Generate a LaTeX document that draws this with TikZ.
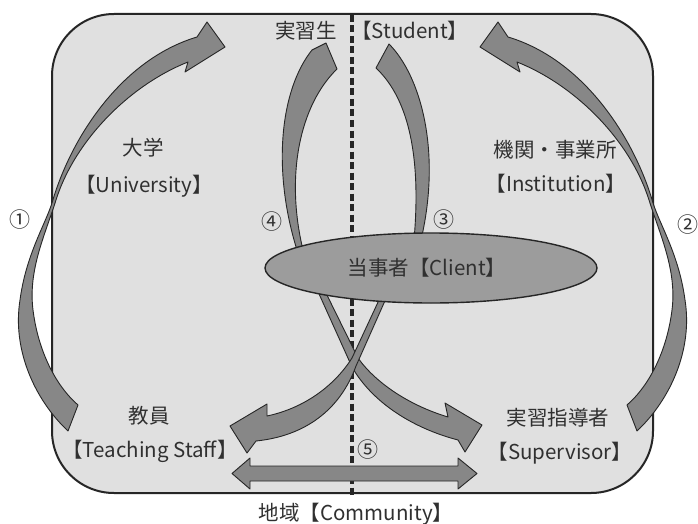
\documentclass[tikz,border=0pt]{standalone}
\usepackage{fontspec}
\setmainfont{Noto Sans CJK JP}
\usetikzlibrary{shapes.geometric}
\definecolor{boxfill}{HTML}{E0E0E0}
\definecolor{arrowfill}{HTML}{878787}
\definecolor{ellfill}{HTML}{9C9C9C}
\definecolor{ink}{HTML}{262626}
\definecolor{txt}{HTML}{303030}
\begin{document}
\begin{tikzpicture}[x=1pt,y=-1pt,
  ribbon/.style={fill=arrowfill,draw=ink,line width=0.9pt,line join=round},
  lbl/.style={text=txt,font=\fontsize{20.5}{24}\selectfont,inner sep=0pt},
  num/.style={text=txt,font=\fontsize{21}{24}\selectfont,inner sep=0pt},
  divider/.style={draw=ink,line width=3.4pt,dash pattern=on 7pt off 3.5pt},
  frame/.style={draw=ink,fill=boxfill,line width=2pt,rounded corners=62pt}]
\fill[white] (0,0) rectangle (698,524);
\useasboundingbox (0,0) rectangle (698,524);

% main frame
\path[frame] (52,14) rectangle (653,493);

% dashed divider
\coordinate (dtop) at (352,15);
\coordinate (dbot) at (352,497);
\draw[divider] (dtop) -- (dbot);

% arrow 1 (left outer)
\path[ribbon] (68,431) .. controls (35,400) and (12,350) .. (20,300)
  .. controls (26,255) and (45,225) .. (52,203)
  .. controls (70,140) and (120,60) .. (197,37)
  -- (207,22) -- (225,47) -- (185,72) -- (188,62)
  .. controls (130,85) and (75,140) .. (56,200)
  .. controls (45,235) and (28,270) .. (33,310)
  .. controls (38,350) and (55,385) .. (78,405) -- cycle;

% arrow 2 (right outer), mirror of arrow 1
\begin{scope}[xshift=705pt,xscale=-1]
\path[ribbon] (68,431) .. controls (35,400) and (12,350) .. (20,300)
  .. controls (26,255) and (45,225) .. (52,203)
  .. controls (70,140) and (120,60) .. (197,37)
  -- (207,22) -- (225,47) -- (185,72) -- (188,62)
  .. controls (130,85) and (75,140) .. (56,200)
  .. controls (45,235) and (28,270) .. (33,310)
  .. controls (38,350) and (55,385) .. (78,405) -- cycle;
\end{scope}

% upper left strand
\path[ribbon] (337,69) .. controls (300,105) and (285,175) .. (303,250)
  -- (297,250) .. controls (272,170) and (280,90) .. (312,50) -- (326,43) -- cycle;

% upper right strand
\path[ribbon] (376,68) -- (389,44) .. controls (420,75) and (442,150) .. (421,240)
  -- (414,240) .. controls (421,160) and (410,100) .. (376,68) -- cycle;

% lower strand to supervisor
\path[ribbon] (322,285) -- (358,358) .. controls (375,382) and (408,405) .. (448,417)
  -- (445,403) -- (482,425) -- (465,452) -- (458,440)
  .. controls (412,428) and (372,402) .. (352,367) -- (315,285) -- cycle;

% lower strand to teaching staff
\path[ribbon] (386,285) -- (352,358) .. controls (335,385) and (305,408) .. (267,416)
  -- (267,404) -- (230,426) -- (247,453) -- (256,441)
  .. controls (305,436) and (340,410) .. (356,366) -- (392,285) -- cycle;

% community double arrow
\path[ribbon] (250,466) -- (458,466) -- (458,458) -- (477,473.5) -- (458,489)
  -- (458,481) -- (250,481) -- (250,489) -- (232,473.5) -- (250,458) -- cycle;

% client ellipse
\node[ellipse,draw=ink,fill=ellfill,line width=1.4pt,minimum width=332pt,
  minimum height=70pt,inner sep=0pt] (client) at (431,268) {};
\node[lbl] (clienttxt) at (427,268) {当事者【Client】};

% labels
\node[lbl,anchor=east] (student) at (337,31) {実習生};
\node[lbl,anchor=west] (studenten) at (351,31) {【Student】};
\node[lbl] (univ) at (143,148) {大学};
\node[lbl] (univen) at (144,186) {【University】};
\node[lbl] (inst) at (555,150) {機関・事業所};
\node[lbl] (insten) at (556,184) {【Institution】};
\node[lbl] (staff) at (149,416) {教員};
\node[lbl] (staffen) at (150,451) {【Teaching Staff】};
\node[lbl] (sup) at (558,418) {実習指導者};
\node[lbl] (supen) at (560,453) {【Supervisor】};
\node[lbl] (comm) at (356,514) {地域【Community】};

% numbers
\node[num] (n1) at (20,220) {①};
\node[num] (n2) at (688,225) {②};
\node[num] (n3) at (444,220) {③};
\node[num] (n4) at (272,222) {④};
\node[num] (n5) at (368,450) {⑤};
\end{tikzpicture}
\end{document}
